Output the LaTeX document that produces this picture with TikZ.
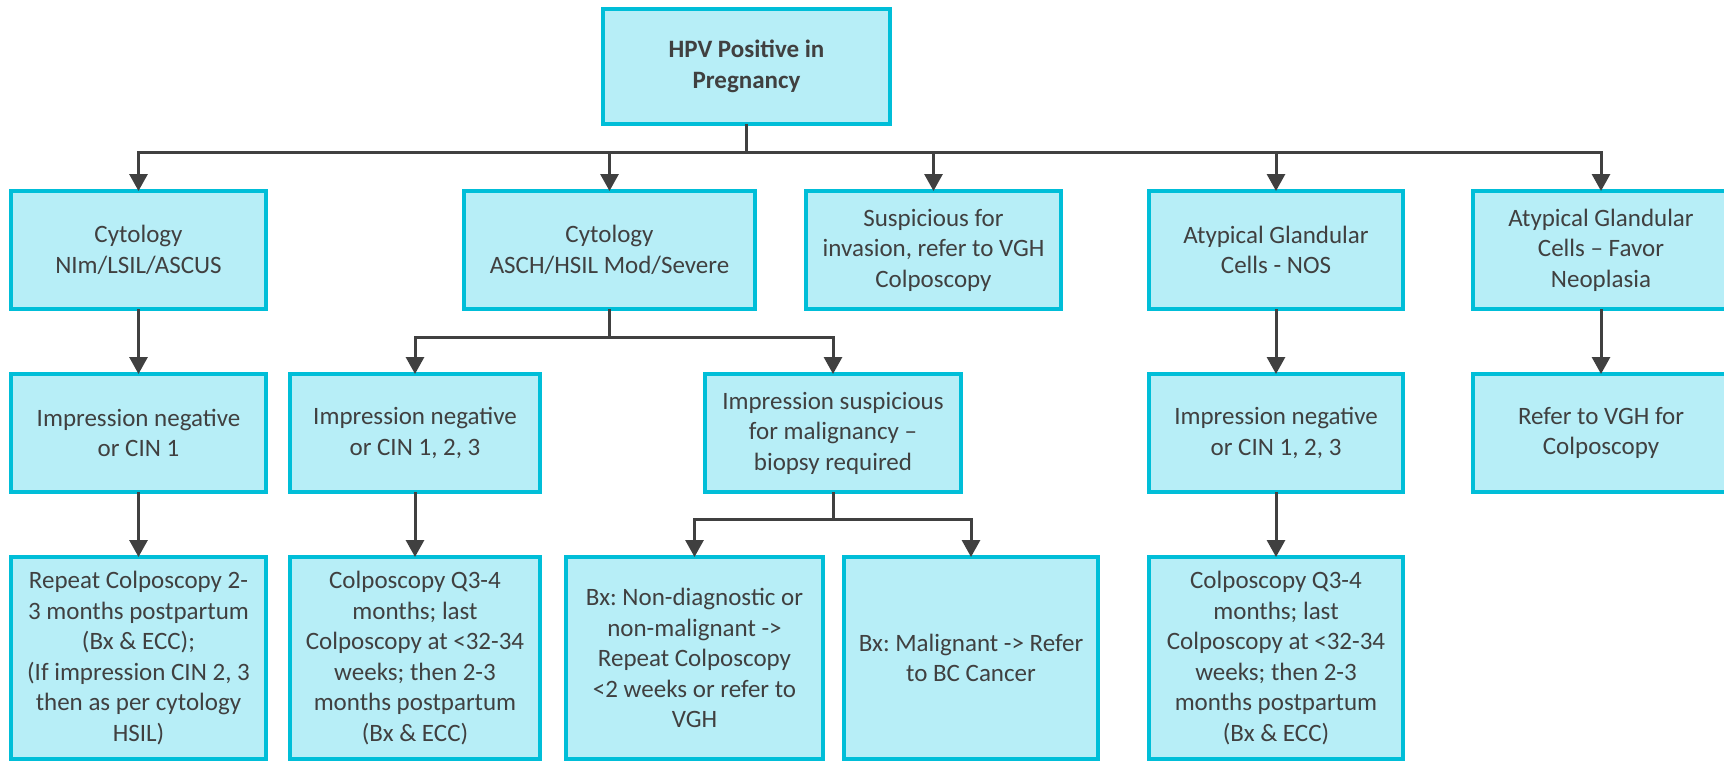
\documentclass[tikz,border=0pt]{standalone}
\usepackage{fontspec}
\setmainfont{Carlito}
\frenchspacing
\usetikzlibrary{arrows.meta}
\definecolor{boxfill}{HTML}{B7EEF7}
\definecolor{boxedge}{HTML}{00BED8}
\definecolor{ink}{HTML}{404040}
\tikzset{
  box/.style={draw=boxedge, fill=boxfill, line width=4pt, inner sep=0pt, outer sep=0pt,
    align=center, text=ink, font=\fontsize{25}{30.5}\selectfont},
  arr/.style={draw=ink, line width=3pt, -{Triangle[width=18pt,length=17pt]}},
}
\begin{document}
\begin{tikzpicture}[x=1pt, y=-1pt]
\useasboundingbox (0,0) rectangle (1724,761);

% root
\node[box, minimum width=287pt, minimum height=115pt, font=\fontsize{25}{31}\selectfont\bfseries]
  (top) at (746.5,66.5) {HPV Positive in\\Pregnancy};

% first level: cytology results
\node[box, minimum width=255pt, minimum height=118pt] (c1) at (138.5,250) {Cytology\\NIm/LSIL/ASCUS};
\node[box, minimum width=291pt, minimum height=118pt] (c2) at (609.5,250) {Cytology\\ASCH/HSIL Mod/Severe};
\node[box, minimum width=255pt, minimum height=118pt] (c3) at (933.5,250) {Suspicious for\\invasion, refer to VGH\\Colposcopy};
\node[box, minimum width=254pt, minimum height=118pt] (c4) at (1276,250) {Atypical Glandular\\Cells - NOS};
\node[box, minimum width=256pt, minimum height=118pt] (c5) at (1601,250) {Atypical Glandular\\Cells – Favor\\Neoplasia};

% second level: colposcopic impression
\node[box, minimum width=255pt, minimum height=118pt] (d1) at (138.5,433) {Impression negative\\or CIN 1};
\node[box, minimum width=250pt, minimum height=118pt] (d2) at (415,433) {Impression negative\\or CIN 1, 2, 3};
\node[box, minimum width=256pt, minimum height=118pt] (d3) at (833,433) {Impression suspicious\\for malignancy –\\biopsy required};
\node[box, minimum width=254pt, minimum height=118pt] (d4) at (1276,433) {Impression negative\\or CIN 1, 2, 3};
\node[box, minimum width=256pt, minimum height=118pt] (d5) at (1601,433) {Refer to VGH for\\Colposcopy};

% third level: follow-up
\node[box, minimum width=255pt, minimum height=202pt] (e1) at (138.5,658)
  {Repeat Colposcopy 2-\\3 months postpartum\\(Bx \& ECC);\\(If impression CIN 2, 3\\then as per cytology\\HSIL)};
\node[box, minimum width=250pt, minimum height=202pt] (e2) at (415,658)
  {Colposcopy Q3-4\\months; last\\Colposcopy at <32-34\\weeks; then 2-3\\months postpartum\\(Bx \& ECC)};
\node[box, minimum width=257pt, minimum height=202pt] (e3) at (694.5,658)
  {Bx: Non-diagnostic or\\non-malignant ->\\Repeat Colposcopy\\<2 weeks or refer to\\VGH};
\node[box, minimum width=254pt, minimum height=202pt] (e4) at (971,658)
  {Bx: Malignant -> Refer\\to BC Cancer};
\node[box, minimum width=254pt, minimum height=202pt] (e5) at (1276,658)
  {Colposcopy Q3-4\\months; last\\Colposcopy at <32-34\\weeks; then 2-3\\months postpartum\\(Bx \& ECC)};

% bus levels
\coordinate (busA) at (0,152);
\coordinate (busB) at (0,337);
\coordinate (busC) at (0,519);

% root to first level
\foreach \n in {c1,c2,c3,c4,c5}
  \draw[arr] (top.south) -- (top.south |- busA) -| (\n.north);

% straight chains
\draw[arr] (c1) -- (d1);
\draw[arr] (d1) -- (e1);
\draw[arr] (c4) -- (d4);
\draw[arr] (d4) -- (e5);
\draw[arr] (c5) -- (d5);
\draw[arr] (d2) -- (e2);

% ASCH/HSIL branch
\draw[arr] (c2.south) -- (c2.south |- busB) -| (d2.north);
\draw[arr] (c2.south) -- (c2.south |- busB) -| (d3.north);

% biopsy branch
\draw[arr] (d3.south) -- (d3.south |- busC) -| (e3.north);
\draw[arr] (d3.south) -- (d3.south |- busC) -| (e4.north);
\end{tikzpicture}
\end{document}
